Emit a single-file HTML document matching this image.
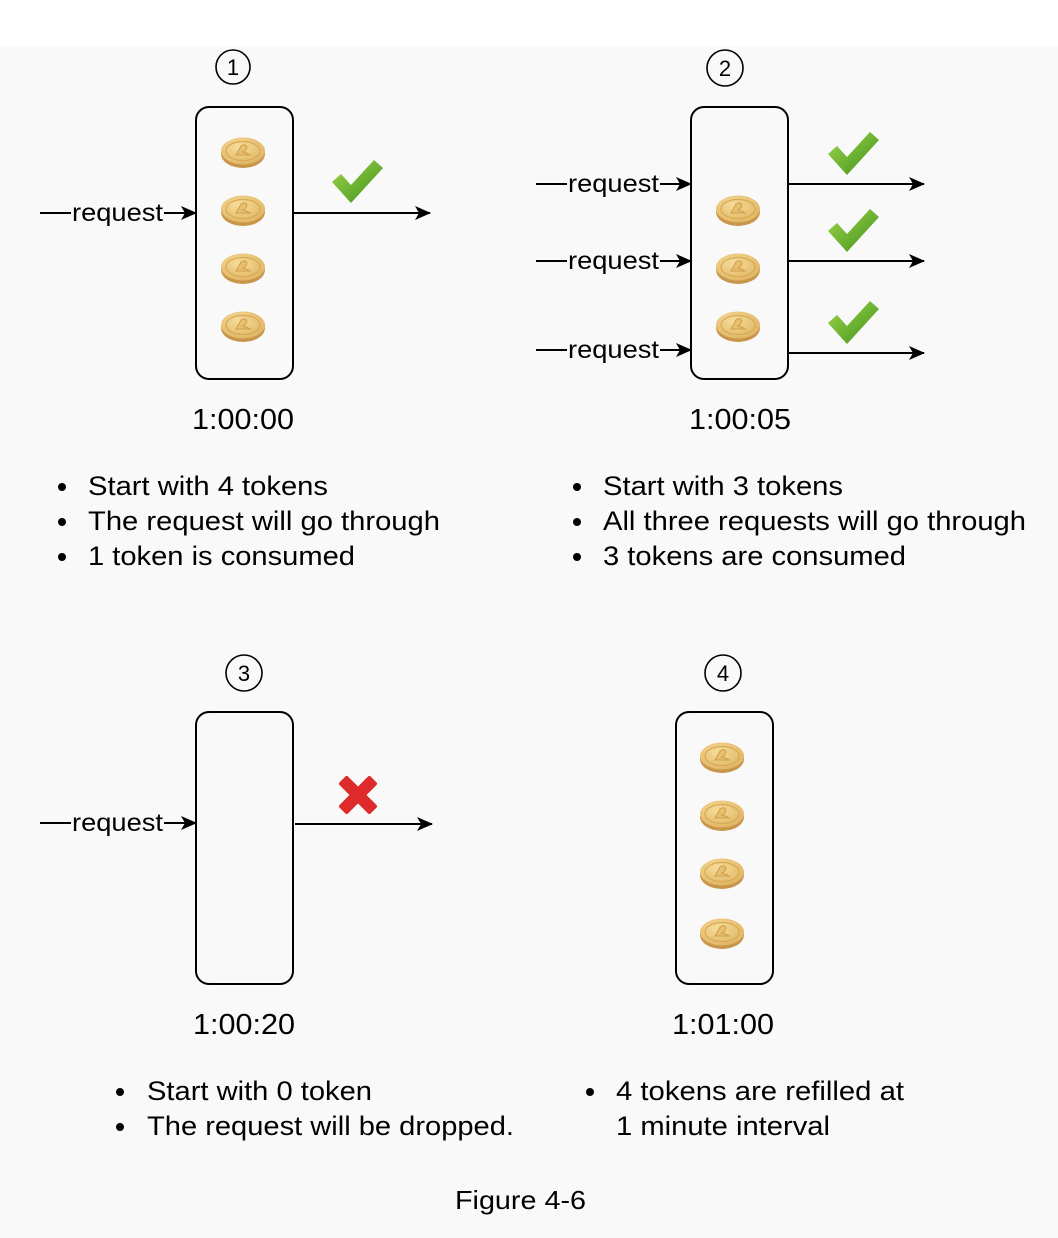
<!DOCTYPE html>
<html><head><meta charset="utf-8"><style>
html,body{margin:0;padding:0;background:#fff;}
svg{display:block;font-family:"Liberation Sans",Arial,sans-serif;}
</style></head><body>
<svg width="1058" height="1238" viewBox="0 0 1058 1238" xmlns="http://www.w3.org/2000/svg">
<defs>
<marker id="ah" markerWidth="16" markerHeight="14" refX="15" refY="7" orient="auto" markerUnits="userSpaceOnUse">
<path d="M0,0 L16,7 L0,14 L4,7 Z" fill="#000"/></marker>
<radialGradient id="cg" cx="40%" cy="35%" r="70%"><stop offset="0" stop-color="#f6dc9a"/><stop offset="1" stop-color="#e0b461"/></radialGradient>
<linearGradient id="gg" x1="0" y1="0" x2="1" y2="1"><stop offset="0" stop-color="#9fd84a"/><stop offset="1" stop-color="#3e8f1c"/></linearGradient>
<g id="coin"><ellipse cx="0" cy="3" rx="22" ry="14" fill="#c8954a"/><ellipse cx="0" cy="0" rx="22" ry="13.5" fill="url(#cg)"/><ellipse cx="0" cy="0" rx="17" ry="9.5" fill="none" stroke="#d8a852" stroke-width="1.2"/><path d="M-7,4 Q-4,-1 -2,-5 Q2,-8 4,-4 Q3,0 0,1 Q4,2 7,4 Z" fill="#e6bf6f" stroke="#cf9e4c" stroke-width="1"/></g>
<g id="chk"><path d="M-26,-6 L-17,-14 L-7,-3 L16,-28 L25,-20 L-7,15 Z" fill="url(#gg)"/></g>
</defs>
<rect x="0" y="46" width="1058" height="1192" fill="#f9f9f9"/>
<g fill="none" stroke="#000" stroke-width="2">
<circle cx="233" cy="67" r="17" stroke-width="1.6"/>
<circle cx="725" cy="68" r="18" stroke-width="1.6"/>
<circle cx="244" cy="673" r="18" stroke-width="1.6"/>
<circle cx="723" cy="673" r="18" stroke-width="1.6"/>
<rect x="196" y="107" width="97" height="272" rx="13"/>
<rect x="691" y="107" width="97" height="272" rx="13"/>
<rect x="196" y="712" width="97" height="272" rx="13"/>
<rect x="676" y="712" width="97" height="272" rx="13"/>
<line x1="293" y1="213" x2="430" y2="213" marker-end="url(#ah)"/>
<line x1="788" y1="184" x2="924" y2="184" marker-end="url(#ah)"/>
<line x1="788" y1="261" x2="924" y2="261" marker-end="url(#ah)"/>
<line x1="788" y1="353" x2="924" y2="353" marker-end="url(#ah)"/>
<line x1="295" y1="824" x2="432" y2="824" marker-end="url(#ah)"/>
<line x1="40" y1="213" x2="71" y2="213"/><line x1="164" y1="213" x2="196" y2="213" marker-end="url(#ah)"/>
<line x1="40" y1="823" x2="71" y2="823"/><line x1="164" y1="823" x2="196" y2="823" marker-end="url(#ah)"/>
<line x1="536" y1="184" x2="567" y2="184"/><line x1="660" y1="184" x2="691" y2="184" marker-end="url(#ah)"/>
<line x1="536" y1="261" x2="567" y2="261"/><line x1="660" y1="261" x2="691" y2="261" marker-end="url(#ah)"/>
<line x1="536" y1="350" x2="567" y2="350"/><line x1="660" y1="350" x2="691" y2="350" marker-end="url(#ah)"/>
</g>
<g font-size="25" fill="#000" lengthAdjust="spacingAndGlyphs">
<text x="72" y="221" textLength="91" lengthAdjust="spacingAndGlyphs">request</text><text x="72" y="831" textLength="91" lengthAdjust="spacingAndGlyphs">request</text>
<text x="568" y="192" textLength="91" lengthAdjust="spacingAndGlyphs">request</text><text x="568" y="269" textLength="91" lengthAdjust="spacingAndGlyphs">request</text><text x="568" y="358" textLength="91" lengthAdjust="spacingAndGlyphs">request</text>
</g>
<g font-size="22" text-anchor="middle">
<text x="233" y="75">1</text><text x="725" y="76">2</text><text x="244" y="681">3</text><text x="723" y="681">4</text>
</g>
<use href="#coin" x="243" y="151"/><use href="#coin" x="243" y="209"/><use href="#coin" x="243" y="267"/><use href="#coin" x="243" y="325"/>
<use href="#coin" x="738" y="209"/><use href="#coin" x="738" y="267"/><use href="#coin" x="738" y="325"/>
<use href="#coin" x="722" y="756"/><use href="#coin" x="722" y="814"/><use href="#coin" x="722" y="872"/><use href="#coin" x="722" y="932"/>
<use href="#chk" x="358" y="188"/>
<use href="#chk" x="854" y="160"/><use href="#chk" x="854" y="237"/><use href="#chk" x="854" y="329"/>
<g transform="translate(358,795) rotate(45)"><rect x="-22" y="-6" width="44" height="12" rx="2" fill="#de2a2a"/><rect x="-6" y="-22" width="12" height="44" rx="2" fill="#de2a2a"/></g>
<g font-size="29">
<text x="192" y="429" textLength="102" lengthAdjust="spacingAndGlyphs">1:00:00</text>
<text x="689" y="429" textLength="102" lengthAdjust="spacingAndGlyphs">1:00:05</text>
<text x="193" y="1034" textLength="102" lengthAdjust="spacingAndGlyphs">1:00:20</text>
<text x="672" y="1034" textLength="102" lengthAdjust="spacingAndGlyphs">1:01:00</text>
</g>
<g font-size="27">
<circle cx="62" cy="487" r="4"/><text x="88" y="495" textLength="240" lengthAdjust="spacingAndGlyphs">Start with 4 tokens</text>
<circle cx="62" cy="522" r="4"/><text x="88" y="530" textLength="352" lengthAdjust="spacingAndGlyphs">The request will go through</text>
<circle cx="62" cy="557" r="4"/><text x="88" y="565" textLength="267" lengthAdjust="spacingAndGlyphs">1 token is consumed</text>
<circle cx="577" cy="487" r="4"/><text x="603" y="495" textLength="240" lengthAdjust="spacingAndGlyphs">Start with 3 tokens</text>
<circle cx="577" cy="522" r="4"/><text x="603" y="530" textLength="423" lengthAdjust="spacingAndGlyphs">All three requests will go through</text>
<circle cx="577" cy="557" r="4"/><text x="603" y="565" textLength="303" lengthAdjust="spacingAndGlyphs">3 tokens are consumed</text>
<circle cx="120" cy="1092" r="4"/><text x="147" y="1100" textLength="225" lengthAdjust="spacingAndGlyphs">Start with 0 token</text>
<circle cx="120" cy="1127" r="4"/><text x="147" y="1135" textLength="367" lengthAdjust="spacingAndGlyphs">The request will be dropped.</text>
<circle cx="590" cy="1092" r="4"/><text x="616" y="1100" textLength="288" lengthAdjust="spacingAndGlyphs">4 tokens are refilled at</text>
<text x="616" y="1135" textLength="214" lengthAdjust="spacingAndGlyphs">1 minute interval</text>
<text x="455" y="1209" font-size="26" textLength="131" lengthAdjust="spacingAndGlyphs">Figure 4-6</text>
</g>
</svg>
</body></html>
